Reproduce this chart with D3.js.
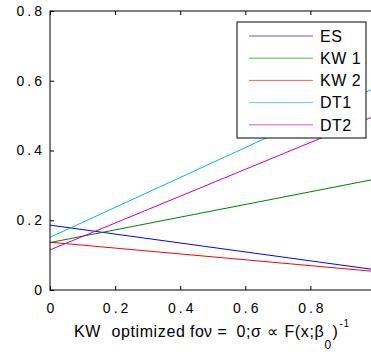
<!DOCTYPE html>
<html>
<head>
<meta charset="utf-8">
<script src="https://cdn.jsdelivr.net/npm/d3@7"></script>
<style>
  body { margin: 0; background: #fff; }
  svg { display: block; font-family: "Liberation Sans", Arial, sans-serif; }
</style>
</head>
<body>
<div class="chart"></div>
<script>
// straight lines, value at x = 0 and x = 1
const xs = [0, 1]
const seriesNames = ['ES', 'KW 1', 'KW 2', 'DT1', 'DT2']
const seriesColors = ['#0000ff', '#008000', '#ff0000', '#00bfbf', '#bf00bf']
const esValues  = [0.186, 0.058]
const kw1Values = [0.136, 0.318]
const kw2Values = [0.137, 0.053]
const dt1Values = [0.151, 0.580]
const dt2Values = [0.115, 0.500]
const xTicks = [0, 0.2, 0.4, 0.6, 0.8]
const yTicks = [0, 0.2, 0.4, 0.6, 0.8]

const allValues = [esValues, kw1Values, kw2Values, dt1Values, dt2Values]

const fullWidth = 371
const fullHeight = 357
const margin = {top: 11, left: 50}
const width = 325.5
const height = 279

const svg = d3.select('.chart')
    .append('svg')
    .attr('width', fullWidth)
    .attr('height', fullHeight)

const g = svg.append('g')
    .attr('transform', `translate(${margin.left}, ${margin.top})`)

const xScale = d3.scaleLinear().domain([0, 1]).range([0, width])
const yScale = d3.scaleLinear().domain([0, 0.8]).range([height, 0])

// lines first, axes box on top
const line = d3.line()
    .x((d, i) => xScale(xs[i]))
    .y(d => yScale(d))

g.selectAll('path.series')
    .data(allValues)
    .enter().append('path')
        .attr('class', 'series')
        .attr('d', d => line(d))
        .attr('fill', 'none')
        .attr('stroke', (d, i) => seriesColors[i])
        .attr('stroke-width', 1)

const fmt = d => d === 0 ? '0' : d3.format('.1f')(d)

// bottom axis, ticks pointing inward
const xAxis = g.append('g')
    .attr('transform', `translate(0, ${height})`)
    .call(d3.axisBottom(xScale).tickValues(xTicks).tickSizeInner(-4).tickSizeOuter(0).tickPadding(13).tickFormat(fmt))
xAxis.select('.domain').remove()
xAxis.selectAll('text')
    .attr('font-size', 14)
    .attr('letter-spacing', 3)
    .attr('dx', 1.5)
    .attr('fill', '#000')
    .attr('font-family', '"Liberation Sans", Arial, sans-serif')

// top ticks
const xTop = g.append('g')
    .call(d3.axisTop(xScale).tickValues(xTicks).tickSizeInner(-4).tickSizeOuter(0).tickFormat(''))
xTop.select('.domain').remove()

// left axis
const yAxis = g.append('g')
    .call(d3.axisLeft(yScale).tickValues(yTicks).tickSizeInner(-4).tickSizeOuter(0).tickPadding(8).tickFormat(fmt))
yAxis.select('.domain').remove()
yAxis.selectAll('text')
    .attr('font-size', 14)
    .attr('letter-spacing', 3)
    .attr('dx', 3)
    .attr('fill', '#000')
    .attr('font-family', '"Liberation Sans", Arial, sans-serif')

g.selectAll('.tick line').attr('stroke', '#000')

// box
g.append('rect')
    .attr('width', width)
    .attr('height', height)
    .attr('fill', 'none')
    .attr('stroke', '#000')
    .attr('stroke-width', 1)

// legend
const legend = svg.append('g')
    .attr('transform', 'translate(237, 22)')
legend.append('rect')
    .attr('width', 129)
    .attr('height', 116)
    .attr('fill', '#fff')
    .attr('stroke', '#000')
    .attr('stroke-width', 1)
const entries = legend.selectAll('g.entry')
    .data(seriesNames)
    .enter().append('g')
        .attr('class', 'entry')
        .attr('transform', (d, i) => `translate(0, ${14 + i * 22.2})`)
entries.append('line')
    .attr('x1', 12).attr('x2', 76)
    .attr('stroke', (d, i) => seriesColors[i])
    .attr('stroke-opacity', 0.65)
entries.append('text')
    .attr('x', 83)
    .attr('dy', '0.36em')
    .attr('font-size', 16)
    .attr('letter-spacing', 0.5)
    .text(d => d)

// x label, pieces placed like the TeX interpreter output
const label = svg.append('text')
    .attr('y', 336.5)
    .attr('font-size', 16)
    .attr('letter-spacing', 0.6)
label.append('tspan').attr('x', 74).text('KW')
label.append('tspan').attr('x', 111.5).text('optimized')
label.append('tspan').attr('x', 190).text('fo')
label.append('tspan').attr('x', 204).text('ν')
label.append('tspan').attr('x', 217.5).text('=')
label.append('tspan').attr('x', 236.5).text('0;σ')
label.append('tspan').attr('x', 266.5).text('∝')
label.append('tspan').attr('x', 284.5).text('F(x;β')
label.append('tspan').attr('x', 324.5).attr('font-size', 12).attr('dy', 12).text('0')
label.append('tspan').attr('x', 332.5).attr('dy', -12).text(')')
label.append('tspan').attr('x', 339.5).attr('font-size', 10).attr('dy', -9.5).text('-1')
</script>
</body>
</html>
